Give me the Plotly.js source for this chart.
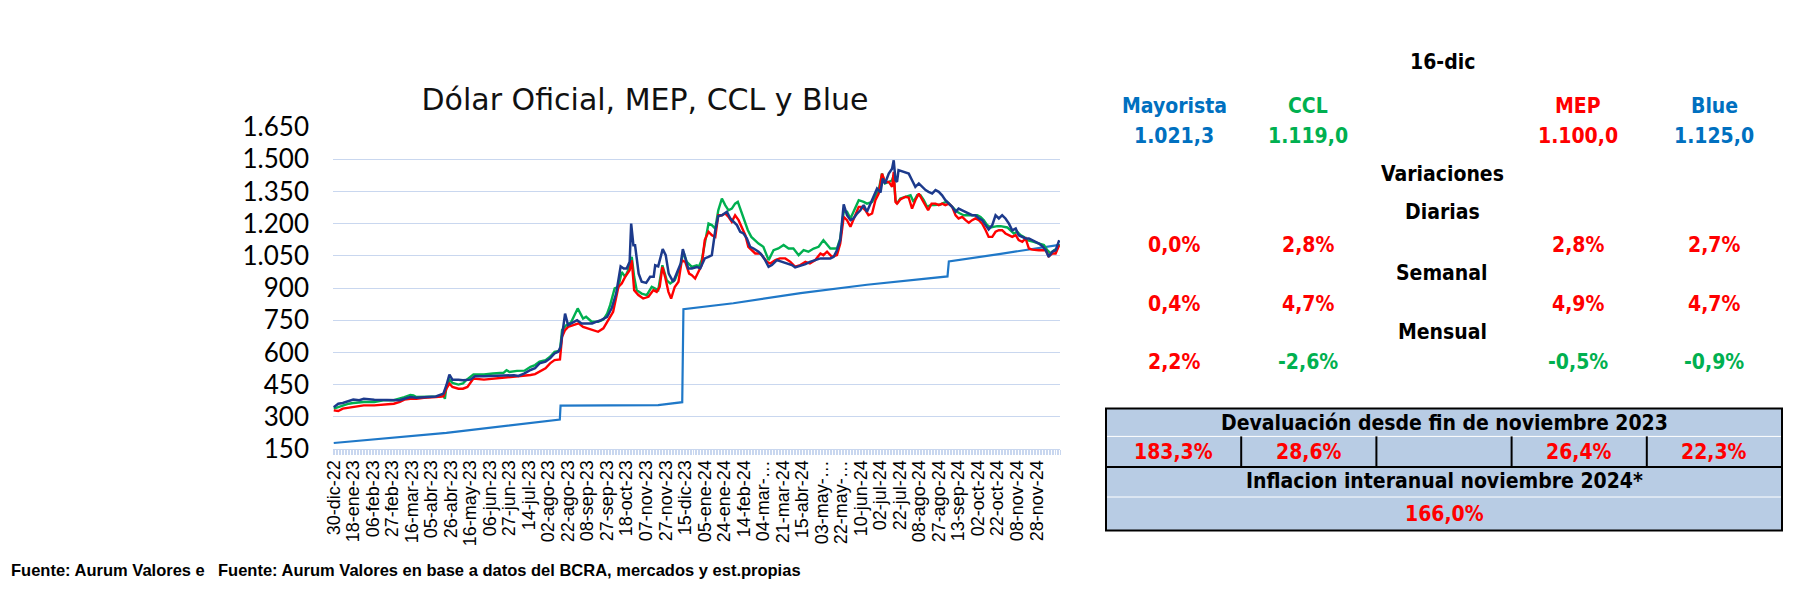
<!DOCTYPE html>
<html>
<head>
<meta charset="utf-8">
<script src="https://cdn.plot.ly/plotly-3.0.1.min.js"></script>
<style>html,body{margin:0;padding:0;background:#fff;}#chart{width:1820px;height:590px;}</style>
</head>
<body>
<div id="chart"></div>
<script>
// ---- data (x = business-day index from 30-dic-22, value in $) ----
const tickIdx = [0,13,26,39,52,65,78,91,104,117,130,143,156,169,182,195,208,221,234,247,260,273,286,299,312,325,338,351,364,377,390,403,416,429,442,455,468];
const tickLabels = ['30-dic-22','18-ene-23','06-feb-23','27-feb-23','16-mar-23','05-abr-23','26-abr-23','16-may-23','06-jun-23','27-jun-23','14-jul-23','02-ago-23','22-ago-23','08-sep-23','27-sep-23','18-oct-23','07-nov-23','27-nov-23','15-dic-23','05-ene-24','24-ene-24','14-feb-24','04-mar-…','21-mar-24','15-abr-24','03-may-…','22-may-…','10-jun-24','02-jul-24','22-jul-24','08-ago-24','27-ago-24','13-sep-24','02-oct-24','22-oct-24','08-nov-24','28-nov-24'];

const mayoristaPts = [[0,178],[75,225],[150.5,287],[151,352],[216,354],[232,368],[232.8,801],[266,829],[310.8,876],[355,915],[408.6,954],[409.5,1024],[444,1059],[483,1101]];

const cclPts = [[0,338],[3,345],[6,353],[10,361],[13,364],[20,369],[27,369],[33,377],[40,377],[44,384],[47,392],[51,402],[53,400],[55,392],[60,392],[64,395],[68,395],[71,395],[73,400],[74,384],[75,439],[77,473],[79,458],[83,450],[86,455],[88,470],[93,497],[100,497],[106,502],[113,505],[115,517],[117,509],[122,514],[127,515],[131,533],[134,541],[137,557],[141,564],[144,580],[147,603],[150.6,608],[152,704],[155,728],[158,740],[162.4,805],[166,758],[168,766],[171.7,743],[176,743],[179.5,753],[182,781],[184,820],[187,898],[189.5,905],[191.7,975],[194,952],[196,983],[198.4,1045],[200,952],[201.7,890],[205,874],[208.4,867],[211.7,905],[216,890],[218.8,1006],[221.7,936],[224,921],[227,936],[230.6,998],[232.8,1068],[235,1022],[238.4,998],[241.7,1006],[243,999],[245,1030],[247,1107],[249.5,1200],[251.7,1193],[254,1177],[256,1262],[258.4,1317],[260.6,1286],[262.8,1262],[265,1270],[267.2,1293],[269,1301],[271.2,1255],[273.5,1208],[275.7,1169],[278,1138],[280,1123],[282.8,1107],[286,1092],[289.5,1030],[292.8,1076],[296,1084],[299.5,1100],[302.8,1084],[306,1084],[309.5,1053],[312.8,1076],[316,1069],[319.5,1084],[322.8,1092],[326,1123],[328.4,1100],[330.6,1084],[335,1084],[337.2,1131],[339.5,1255],[341.7,1255],[344,1224],[347.2,1278],[349.5,1309],[352.8,1301],[355,1293],[358.4,1301],[360.6,1332],[362.8,1356],[365,1433],[367,1387],[369.5,1394],[371.7,1402],[372.8,1425],[374,1309],[375,1293],[377.2,1317],[380.6,1325],[384,1332],[386,1301],[388.4,1332],[390.6,1332],[392.8,1309],[395,1278],[397.2,1286],[399.5,1286],[401.7,1289],[404,1289],[406,1297],[408.4,1301],[410.6,1286],[412.8,1270],[415,1255],[417,1247],[419.5,1239],[424,1239],[428.4,1239],[430.6,1231],[432.8,1216],[435,1193],[437.2,1182],[441.7,1188],[444,1188],[448.4,1182],[450.6,1169],[452.8,1154],[455,1162],[457.2,1146],[459.5,1138],[461.7,1123],[466,1115],[470.6,1107],[472.8,1100],[475,1076],[477.2,1061],[479.5,1076],[481.7,1084],[483,1105]];

const mepPts = [[0,330],[3,327],[6,338],[10,342],[13,345],[20,353],[27,353],[33,358],[40,361],[44,369],[47,380],[51,384],[55,384],[60,389],[64,392],[68,392],[73,395],[75,431],[77,455],[79,439],[83,431],[86,431],[89,439],[93,478],[100,473],[106,477],[113,483],[120,486],[126,489],[131,495],[134,499],[137,510],[141,526],[144,549],[147,564],[150.6,567],[152,673],[154,704],[156,719],[159.5,727],[163,735],[166,719],[169.5,712],[173,704],[176,696],[179.5,712],[183,750],[186,789],[189.5,905],[191.7,921],[194,952],[197,983],[198.4,1029],[200,890],[202.8,867],[206,851],[209.5,859],[212.8,890],[215,882],[217,905],[218.8,998],[220.6,952],[222.8,882],[224.6,851],[227,905],[229.5,929],[231.7,1029],[234,1022],[236.6,967],[238.4,960],[240.6,944],[243,976],[245,1007],[247,1123],[249.5,1162],[251.7,1146],[254,1138],[256,1239],[258.4,1239],[260.6,1247],[262.8,1231],[265,1208],[267.2,1239],[269.5,1216],[271.7,1185],[274,1146],[276,1092],[278.4,1076],[280.6,1061],[284,1061],[286,1045],[288.4,1022],[290.6,1014],[294,1030],[297,1038],[300.6,1038],[304,1022],[307.2,999],[310.6,1007],[314,1022],[317,1014],[320.6,1030],[324,1061],[326,1053],[328.4,1069],[331.7,1045],[335,1053],[337.2,1107],[339.5,1231],[341.7,1216],[344,1185],[347.2,1239],[349.5,1278],[351.7,1278],[354,1262],[356,1239],[358.4,1247],[360.6,1309],[362.8,1340],[365,1433],[367,1394],[369.5,1394],[371.7,1371],[372.8,1441],[374,1301],[375,1293],[377.2,1312],[380.6,1325],[382.8,1321],[385,1270],[387.2,1309],[389.5,1340],[391.7,1312],[394,1286],[395.7,1262],[398,1293],[400.6,1293],[402.8,1286],[405,1293],[407.2,1286],[409.5,1293],[411.7,1278],[414,1239],[416,1224],[418.4,1231],[420.6,1216],[422.8,1204],[425,1216],[427.2,1224],[429.5,1216],[431.7,1200],[434,1169],[436,1138],[438.4,1138],[440.6,1162],[442.8,1169],[445,1169],[447.2,1154],[449.5,1146],[451.7,1138],[454,1146],[456,1123],[458.4,1115],[460.6,1131],[462.8,1084],[465,1079],[469.5,1076],[474,1076],[476,1048],[478.4,1061],[480.6,1061],[483,1100]];

const bluePts = [[0,345],[3,361],[6,364],[10,372],[13,380],[17,377],[20,384],[27,380],[33,380],[40,380],[44,377],[47,384],[51,392],[55,389],[60,392],[64,395],[68,395],[73,408],[75,447],[77,497],[79,473],[83,473],[86,470],[91,473],[94,489],[100,489],[106,489],[113,492],[120,494],[123,490],[127,502],[131,518],[134,526],[137,549],[141,557],[144,572],[147,595],[149.5,603],[151,626],[153,735],[154,781],[156,727],[158,735],[162,750],[165,735],[168,735],[172,735],[175,743],[178,750],[182,766],[185,805],[188,874],[191,1001],[193,991],[195,991],[197,1022],[198,1200],[199.5,1099],[200.6,1099],[203,967],[205,929],[208,924],[210.6,952],[213,952],[214,1006],[216,1001],[219,1081],[221,1053],[223,967],[226,929],[228,967],[231,1014],[232.4,1081],[234,1037],[236,991],[238.4,991],[241.7,998],[244,991],[246,1029],[247,1038],[249.5,1045],[251.7,1053],[254,1169],[256,1235],[258.4,1239],[261.7,1255],[264,1224],[266,1208],[268.4,1193],[270.6,1162],[272.8,1154],[275,1131],[277.2,1092],[279.5,1084],[282.8,1069],[285,1053],[287.2,1030],[289.5,999],[291.7,1007],[295,1030],[298.4,1022],[301.7,1017],[305,1007],[307.2,996],[310.6,1002],[314,1011],[317,1022],[320.6,1030],[324,1038],[327.2,1038],[330.6,1038],[332.8,1045],[335,1076],[337.2,1123],[339.5,1290],[341.7,1239],[344,1216],[346,1224],[348.4,1247],[350.6,1262],[352.8,1286],[355,1255],[357.2,1293],[359.5,1325],[361.7,1363],[364,1345],[365.5,1410],[367,1387],[369.5,1433],[371.7,1456],[372.8,1495],[374,1402],[375,1394],[376,1449],[378.4,1444],[380.6,1441],[382.8,1433],[385,1402],[387.2,1371],[389.5,1387],[391.7,1371],[394,1356],[396,1348],[398.4,1340],[400.6,1356],[402.8,1348],[405,1332],[407.2,1309],[409.5,1293],[411.7,1278],[414,1255],[416,1270],[418.4,1262],[420.6,1255],[422.8,1247],[425,1239],[427.2,1239],[429.5,1224],[431.7,1216],[434,1193],[436,1173],[438.4,1193],[440.6,1239],[442.8,1224],[445,1239],[447.2,1224],[449.5,1200],[451.7,1169],[454,1177],[456,1146],[458.4,1138],[460.6,1131],[462.8,1131],[465,1123],[467.2,1115],[469.5,1107],[471.7,1095],[474,1076],[476,1045],[478.4,1069],[480.6,1076],[483,1123]];

// right panel texts
const panelDate = '16-dic';
const panelNames = ['Mayorista','CCL','MEP','Blue'];
const panelLevels = ['1.021,3','1.119,0','1.100,0','1.125,0'];
const varDiarias = ['0,0%','2,8%','2,8%','2,7%'];
const varSemanal = ['0,4%','4,7%','4,9%','4,7%'];
const varMensual = ['2,2%','-2,6%','-0,5%','-0,9%'];
const devalLabel = 'Devaluación desde fin de noviembre 2023';
const devalValues = ['183,3%','28,6%','','26,4%','22,3%'];
const inflLabel = 'Inflacion interanual noviembre 2024*';
const inflValue = '166,0%';
const sourceClipped = 'Fuente: Aurum Valores e';
const sourceText = 'Fuente: Aurum Valores en base a datos del BCRA, mercados y est.propias';

// ---- colours ----
const C_BLUE_TXT = '#0070c0', C_GREEN = '#00b050', C_RED = '#ff0000';
const nameColors = [C_BLUE_TXT, C_GREEN, C_RED, C_BLUE_TXT];
const pctColor = s => (s.trim().startsWith('-') ? C_GREEN : C_RED);

// ---- geometry helpers (pixel -> paper) ----
const L = 333, W = 727, T = 127, H = 322;
const px = x => (x - L) / W;
const py = y => (T + H - y) / H;

const mk = (pts, name, color, w) => ({
  type: 'scatter', mode: 'lines', name,
  x: pts.map(p => p[0]), y: pts.map(p => p[1]),
  line: {color, width: w, shape: 'linear'}, hoverinfo: 'skip'
});

const traces = [
  mk(mayoristaPts, 'Mayorista', '#1f78c8', 2.2),
  mk(cclPts, 'CCL', '#00b050', 2.4),
  mk(mepPts, 'MEP', '#ff0000', 2.4),
  mk(bluePts, 'Blue', '#1c3a8c', 2.5)
];

const PF = 'DejaVu Sans Condensed, Liberation Sans Narrow, DejaVu Sans, sans-serif';
const ann = [];
function t(text, x, y, color, size, extra) {
  ann.push(Object.assign({xref:'paper', yref:'paper', x: px(x), y: py(y), text, showarrow:false,
    xanchor:'center', yanchor:'middle',
    font:{family:PF, size: size || 21, color: color || '#000', weight:'bold'}}, extra || {}));
}
const colX = [1174, 1308, 1578, 1714];
t(panelDate, 1442, 62);
panelNames.forEach((s,i)=>t(s, colX[i], 106, nameColors[i]));
panelLevels.forEach((s,i)=>t(s, colX[i], 136, nameColors[i]));
t('Variaciones', 1442, 174);
t('Diarias', 1442, 212);
varDiarias.forEach((s,i)=>t(s, colX[i], 245, pctColor(s)));
t('Semanal', 1442, 273);
varSemanal.forEach((s,i)=>t(s, colX[i], 304, pctColor(s)));
t('Mensual', 1442, 332);
varMensual.forEach((s,i)=>t(s, colX[i], 362, pctColor(s)));

// table
const TX0 = 1106, TX1 = 1782, TY = [408.6, 436.4, 467, 497, 530.5];
const colW = (TX1 - TX0) / 5;
t(devalLabel, (TX0+TX1)/2, (TY[0]+TY[1])/2);
devalValues.forEach((s,i)=>{ if (s) t(s, TX0 + colW*(i+0.5), (TY[1]+TY[2])/2, C_RED); });
t(inflLabel, (TX0+TX1)/2, (TY[2]+TY[3])/2 - 1);
t(inflValue, (TX0+TX1)/2, (TY[3]+TY[4])/2, C_RED);

// footer
const FF = {family:'Liberation Sans, Arial, sans-serif', size:16.5, color:'#000', weight:'bold'};
ann.push({xref:'paper', yref:'paper', x:px(9), y:py(570), text:sourceClipped, showarrow:false, xanchor:'left', yanchor:'middle', font:FF});
ann.push({xref:'paper', yref:'paper', x:px(216), y:py(570), text:sourceText, showarrow:false, xanchor:'left', yanchor:'middle', font:FF});

const shapes = [];
const rect = (x0,y0,x1,y1,fill,lc,lw) => shapes.push({type:'rect', xref:'paper', yref:'paper', x0:px(x0), x1:px(x1), y0:py(y1), y1:py(y0), fillcolor:fill, line:{color:lc, width:lw}, layer:'below'});
const line = (x0,y0,x1,y1,lc,lw) => shapes.push({type:'line', xref:'paper', yref:'paper', x0:px(x0), x1:px(x1), y0:py(y0), y1:py(y1), line:{color:lc, width:lw}, layer:'below'});
rect(TX0, TY[0], TX1, TY[4], '#b8cce4', 'rgba(0,0,0,0)', 0);
line(TX0, TY[1], TX1, TY[1], '#ffffff', 1);
line(TX0, TY[3], TX1, TY[3], '#ffffff', 1);
line(TX0, TY[2], TX1, TY[2], '#000000', 2);
for (let i=1;i<5;i++) line(TX0+colW*i, TY[1], TX0+colW*i, TY[2], '#000000', 2);
rect(TX0, TY[0], TX1, TY[4], 'rgba(0,0,0,0)', '#000000', 2);

const layout = {
  width: 1820, height: 590, autosize: false,
  margin: {l: L, r: 1820 - L - W, t: T, b: 590 - T - H, pad: 0},
  paper_bgcolor: '#ffffff', plot_bgcolor: '#ffffff',
  showlegend: false,
  separators: ',.',
  title: {text: 'Dólar Oficial, MEP, CCL y Blue', x: 645/1820, xref: 'container', xanchor: 'center',
          y: 1 - 99/590, yref: 'container', yanchor: 'middle',
          font: {family: 'DejaVu Sans, sans-serif', size: 30, color: '#111'}},
  xaxis: {
    type: 'linear', range: [-0.5, 483.5], fixedrange: true,
    tickmode: 'array', tickvals: tickIdx, ticktext: tickLabels, tickangle: -90,
    ticks: '', showgrid: false, zeroline: false,
    showline: true, linecolor: '#c9d7ef', linewidth: 1,
    tickfont: {family: 'Liberation Sans, Arial, sans-serif', size: 18, color: '#000'},
    ticklabelstandoff: 3,
    minor: {tickmode: 'linear', tick0: -0.5, dtick: 1, ticks: 'outside', ticklen: 5, tickwidth: 1, tickcolor: '#c9d7ef', showgrid: false}
  },
  yaxis: {
    range: [150, 1650], tickmode: 'linear', tick0: 150, dtick: 150, tickformat: ',d',
    showgrid: true, gridcolor: '#c9d7ef', gridwidth: 1, zeroline: false, showline: false, ticks: '',
    tickfont: {family: 'Lato, Open Sans, sans-serif', size: 26, color: '#000'},
    ticklabelstandoff: 23, fixedrange: true
  },
  annotations: ann,
  shapes: shapes
};

Plotly.newPlot('chart', traces, layout, {displayModeBar: false, staticPlot: true});
</script>
</body>
</html>
